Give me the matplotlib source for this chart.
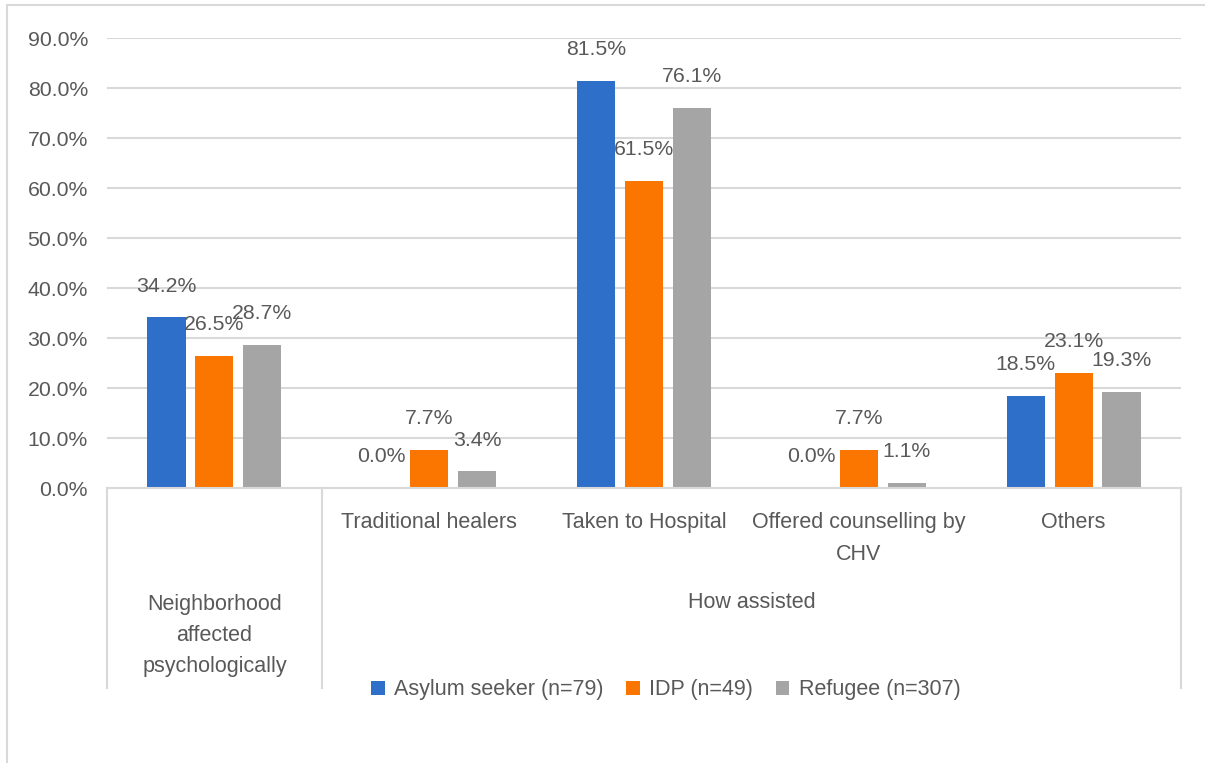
import matplotlib
matplotlib.use("Agg")
import matplotlib.pyplot as plt
from matplotlib.patches import Patch
from matplotlib.lines import Line2D
from matplotlib.ticker import FuncFormatter
import matplotlib.transforms as mtransforms

# ---- data -------------------------------------------------------------
categories = ["Neighborhood\naffected\npsychologically", "Traditional healers",
              "Taken to Hospital", "Offered counselling by\nCHV", "Others"]
group_label = "How assisted"
series_names = ["Asylum seeker (n=79)", "IDP (n=49)", "Refugee (n=307)"]
asylum = [34.2, 0.0, 81.5, 0.0, 18.5]
idp = [26.5, 7.7, 61.5, 7.7, 23.1]
refugee = [28.7, 3.4, 76.1, 1.1, 19.3]
y_ticks = [0, 10, 20, 30, 40, 50, 60, 70, 80, 90]

colors = ["#2E6FCA", "#FB7600", "#A5A5A5"]
text_color = "#595959"
line_color = "#D9D9D9"

plt.rcParams["font.family"] = ["Liberation Sans", "DejaVu Sans"]
NUM_SIZE = 15.3
WORD_SIZE = 15.5

W, H, DPI = 1205, 763, 100
fig = plt.figure(figsize=(W / DPI, H / DPI), dpi=DPI)
fig.patch.set_facecolor("white")

# plot area in pixels
x0, x1, y_top, y_zero = 107, 1181, 38, 488
ax = fig.add_axes([x0 / W, (H - y_zero) / H, (x1 - x0) / W, (y_zero - y_top) / H])

n = len(categories)
bar_w = 0.177
step = 0.223
series = [asylum, idp, refugee]
px_per_pt = DPI / 72.0

for i, (vals, col, name) in enumerate(zip(series, colors, series_names)):
    xs = [k + (i - 1) * step for k in range(n)]
    ax.bar(xs, vals, width=bar_w, color=col, label=name, zorder=3)
    for x, v in zip(xs, vals):
        ax.annotate(f"{v:.1f}%", (x, v), xytext=(0, 31 / px_per_pt),
                    textcoords="offset points", ha="center", va="center",
                    fontsize=NUM_SIZE, color=text_color, zorder=4)

ax.set_xlim(-0.5, n - 0.5)
ax.set_ylim(0, 90)
ax.set_yticks(y_ticks)
ax.yaxis.set_major_formatter(FuncFormatter(lambda v, p: f"{v:.1f}%"))
ax.tick_params(axis="y", length=0, pad=19 / px_per_pt, labelsize=NUM_SIZE, labelcolor=text_color)
ax.set_xticks([])
ax.grid(axis="y", color=line_color, linewidth=1.5, zorder=0)
for s in ax.spines.values():
    s.set_visible(False)

# multi-level category axis
trans = mtransforms.blended_transform_factory(ax.transData, ax.transAxes)
axis_h = y_zero - y_top


def frac(ypix):
    return (y_zero - ypix) / axis_h


ax.add_line(Line2D([-0.5, n - 0.5], [0, 0], transform=trans, color=line_color,
                   linewidth=1.5, clip_on=False, zorder=5))
for xv in [-0.5, 0.5, n - 0.5]:
    ax.add_line(Line2D([xv, xv], [0, frac(688)], transform=trans, color=line_color,
                       linewidth=1.5, clip_on=False))


def put_lines(x, label, first_baseline, spacing):
    for j, line in enumerate(label.split("\n")):
        ax.text(x, frac(first_baseline + j * spacing), line, transform=trans,
                ha="center", va="baseline", fontsize=WORD_SIZE, color=text_color)


put_lines(0, categories[0], 610, 31)
for k in range(1, n):
    put_lines(k, categories[k], 528, 32)
put_lines((0.5 + n - 0.5) / 2, group_label, 608, 31)

# legend
handles = [Patch(facecolor=c, edgecolor="none") for c in colors]
fig.legend(handles, series_names, loc="center", ncol=3, frameon=False,
           bbox_to_anchor=(666 / W, 1 - 690 / H), fontsize=WORD_SIZE,
           labelcolor=text_color, handlelength=0.62, handleheight=0.62,
           handletextpad=0.45, columnspacing=1.05)

# outer border
fig.add_artist(Line2D([7 / W, 7 / W], [0, 1 - 5 / H], color=line_color, linewidth=1.5))
fig.add_artist(Line2D([7 / W, 1], [1 - 5 / H, 1 - 5 / H], color=line_color, linewidth=1.5))

fig.savefig("out.png", dpi=DPI)
